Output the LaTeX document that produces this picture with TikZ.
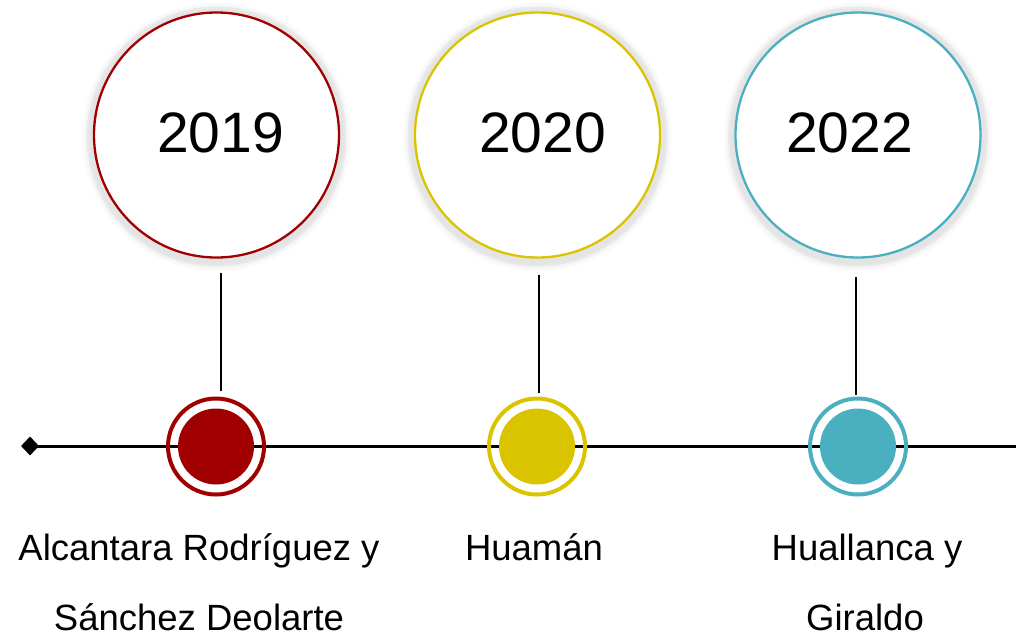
\documentclass[tikz,border=0pt]{standalone}
\usepackage{fontspec}
\setmainfont{Liberation Sans}
\usetikzlibrary{shapes.geometric}
\definecolor{cred}{HTML}{A10000}
\definecolor{cyel}{HTML}{DAC400}
\definecolor{cteal}{HTML}{4AAFBF}
\begin{document}
\begin{tikzpicture}[x=1pt,y=-1pt,
  bigcirc/.style={circle,draw,line width=2.3pt,fill=white,minimum size=245pt,inner sep=0pt},
  yeartext/.style={anchor=base,font=\fontsize{57}{60}\selectfont,inner sep=0pt},
  ringc/.style={circle,draw,line width=4pt,minimum size=96pt,inner sep=0pt},
  dotc/.style={circle,minimum size=76pt,inner sep=0pt},
  lbl/.style={anchor=base,font=\fontsize{36.5}{40}\selectfont,inner sep=0pt},
  stem/.style={line width=2.7pt},
  tline/.style={line width=3pt},
  dia/.style={diamond,fill=black,minimum width=18pt,minimum height=19pt,inner sep=0pt}
]
\useasboundingbox (0,0) rectangle (1016,643);
% shadows
\foreach \cx in {216.5,537.5,858}{
  \fill[black,opacity=0.035] (\cx,136.5) circle[radius=130];
  \foreach \r in {127,128,...,135}{
    \fill[black,opacity=0.007] (\cx,137) circle[radius=\r];
  }
}
% big circles
\node[bigcirc,draw=cred] (c1) at (216.5,135) {};
\node[bigcirc,draw=cyel] (c2) at (537.5,135) {};
\node[bigcirc,draw=cteal] (c3) at (858,135) {};
\node[yeartext] (y1) at (220.5,152) {2019};
\node[yeartext] (y2) at (542.5,152) {2020};
\node[yeartext] (y3) at (849.5,152) {2022};
% timeline
\node[dia] (d0) at (30,446) {};
\coordinate (tend) at (1016,446);
\draw[tline] (d0.center) -- (tend);
% stems
\coordinate (s1a) at (221,273); \coordinate (s1b) at (221,391);
\coordinate (s2a) at (539,275); \coordinate (s2b) at (539,393);
\coordinate (s3a) at (856,277); \coordinate (s3b) at (856,395);
\draw[stem] (s1a) -- (s1b);
\draw[stem] (s2a) -- (s2b);
\draw[stem] (s3a) -- (s3b);
% markers
\node[ringc,draw=cred] (r1) at (216,446.5) {};
\node[dotc,fill=cred] (m1) at (216,446.5) {};
\node[ringc,draw=cyel] (r2) at (537,446.5) {};
\node[dotc,fill=cyel] (m2) at (537,446.5) {};
\node[ringc,draw=cteal] (r3) at (858,446.5) {};
\node[dotc,fill=cteal] (m3) at (858,446.5) {};
% labels
\node[lbl] (l1a) at (199,560) {Alcantara Rodríguez y};
\node[lbl] (l1b) at (199,630) {Sánchez Deolarte};
\node[lbl] (l2a) at (534,560) {Huamán};
\node[lbl] (l3a) at (867,560) {Huallanca y};
\node[lbl] (l3b) at (865,630) {Giraldo};
\end{tikzpicture}
\end{document}
